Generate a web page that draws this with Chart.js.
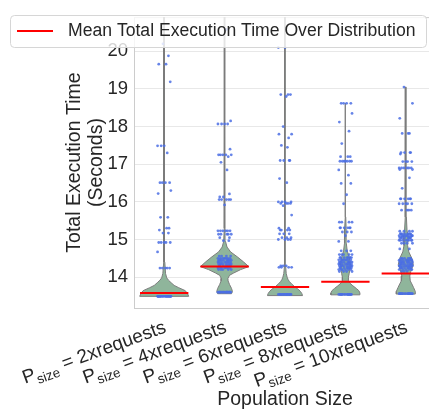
<!DOCTYPE html>
<html><head><meta charset="utf-8">
<script src="https://cdn.jsdelivr.net/npm/chart.js@4/dist/chart.umd.min.js"></script>
<style>html,body{margin:0;padding:0;overflow:hidden;background:#fff}#wrap{width:440px;height:416px}</style>
</head><body><div id="wrap"><canvas id="c" width="440" height="416"></canvas></div>
<script>
// ---------- data ----------
const categories = ['2xrequests','4xrequests','6xrequests','8xrequests','10xrequests'];
const yTicks = [14,15,16,17,18,19,20];
const meanTimes = [13.58, 14.28, 13.74, 13.88, 14.10];

// strip points: [value, count]
const points2x = [[20.2,1],[19.88,1],[19.66,2],[19.19,1],[17.49,3],[17.3,1],[16.51,4],[16.3,1],[16.22,1],[15.59,2],[15.3,2],[15.25,1],[15.17,2],[14.92,5],[14.67,1],[14.24,5],[13.49,22]];
const points4x = [[20.58,1],[18.15,1],[18.07,4],[17.4,1],[17.25,5],[17.2,1],[17.05,1],[16.85,1],[16.21,1],[16.13,2],[16.06,5],[15.92,1],[15.23,6],[15.14,5],[15.05,2],[14.97,2],[14.56,4],[14.5,7],[14.45,8],[14.4,8],[14.35,8],[14.3,8],[14.25,7],[14.2,5],[13.6,16]];
const points6x = [[20.1,2],[18.85,3],[18.8,1],[18.0,1],[17.8,2],[17.7,1],[17.5,1],[17.45,1],[17.1,4],[16.62,1],[16.51,1],[16.0,4],[15.96,4],[15.9,1],[15.65,1],[15.3,2],[15.25,4],[15.15,3],[15.05,3],[15.0,4],[14.3,3],[14.26,4],[13.54,16]];
const points8x = [[18.62,4],[18.35,1],[18.12,1],[17.88,1],[17.55,1],[17.2,3],[17.08,7],[16.85,1],[16.71,1],[16.49,2],[16.19,1],[15.95,1],[15.46,4],[15.31,6],[15.2,3],[15.1,1],[14.95,2],[14.7,3],[14.6,5],[14.52,8],[14.46,8],[14.4,8],[14.35,8],[14.3,8],[14.25,8],[14.2,6],[14.15,4],[13.54,16]];
const points10x = [[19.05,1],[18.62,1],[18.22,1],[17.82,3],[17.31,4],[17.27,1],[17.07,4],[16.9,6],[16.86,2],[16.64,1],[16.36,1],[16.08,6],[15.95,5],[15.78,4],[15.22,4],[15.15,8],[15.1,10],[15.05,8],[14.98,8],[14.9,4],[14.75,2],[14.5,6],[14.45,8],[14.4,8],[14.35,8],[14.3,10],[14.25,8],[14.2,6],[14.15,3],[13.56,16]];
const pointGroups = [points2x, points4x, points6x, points8x, points10x];

// violin outlines: [value, half width of the density (category units)]
const violin2x = [[13.49,0.405],[13.55,0.39],[13.64,0.35],[13.72,0.24],[13.78,0.165],[13.85,0.116],[13.92,0.07],[13.98,0.042],[14.1,0.022],[14.4,0.01],[15.0,0.006],[21.5,0.004]];
const violin4x = [[13.56,0.115],[13.62,0.13],[13.7,0.115],[13.8,0.083],[13.9,0.058],[13.97,0.055],[14.05,0.083],[14.11,0.15],[14.2,0.265],[14.28,0.40],[14.41,0.31],[14.54,0.21],[14.67,0.1],[14.8,0.04],[14.95,0.015],[15.3,0.007],[21.5,0.004]];
const violin6x = [[13.51,0.29],[13.56,0.28],[13.62,0.256],[13.68,0.215],[13.74,0.165],[13.81,0.115],[13.88,0.074],[13.94,0.05],[14.0,0.035],[14.1,0.02],[14.3,0.01],[15.0,0.006],[21.5,0.004]];
const violin8x = [[13.53,0.24],[13.58,0.24],[13.64,0.223],[13.7,0.18],[13.77,0.124],[13.84,0.074],[13.9,0.05],[14.0,0.05],[14.1,0.063],[14.25,0.08],[14.4,0.08],[14.55,0.058],[14.7,0.03],[14.9,0.015],[15.3,0.012],[15.6,0.006],[18.62,0.004]];
const violin10x = [[13.55,0.157],[13.62,0.157],[13.72,0.13],[13.82,0.1],[13.9,0.074],[14.03,0.066],[14.15,0.083],[14.33,0.124],[14.5,0.1],[14.67,0.05],[14.84,0.03],[15.05,0.04],[15.25,0.02],[15.6,0.01],[16.1,0.008],[19.05,0.004]];
const violins = [violin2x, violin4x, violin6x, violin8x, violin10x];

// ---------- styling / layout ----------
const FONT = "'Liberation Sans', Arial, sans-serif";
const TEXT = '#262626';
const JIT = [-0.02,0.07,-0.09,0.03,0.10,-0.05,0.0,-0.11,0.05,0.09,-0.07,0.02,-0.03,0.11,-0.10,0.06,-0.06,0.04,0.08,-0.08];
const MEAN_HALF = 0.4;

const violinDatasets = violins.map((prof, i) => {
  const right = prof.map(([v, w]) => ({x: i + w, y: v}));
  const left = prof.slice().reverse().map(([v, w]) => ({x: i - w, y: v}));
  const poly = right.concat(left);
  poly.push(right[0]);
  return {type:'line', data: poly, parsing:false, fill:'shape', backgroundColor:'#8fb59b',
    borderColor:'#7c7c7c', borderWidth:1, pointRadius:0, tension:0, order:3};
});

const stripDatasets = pointGroups.map((groups, i) => {
  const pts = [];
  let k = i * 3;
  groups.forEach(([v, n]) => {
    for (let j = 0; j < n; j++) { pts.push({x: i + JIT[k % JIT.length], y: v}); k++; }
  });
  return {type:'scatter', data: pts, parsing:false, pointRadius:1.4, borderWidth:0,
    backgroundColor:'rgba(75,110,228,0.85)', order:2};
});

const meanData = [];
meanTimes.forEach((m, i) => {
  meanData.push({x: i - MEAN_HALF, y: m}, {x: i + MEAN_HALF, y: m}, {x: i + 0.5, y: null});
});
const meanDataset = {type:'line', label:'Mean Total Execution Time Over Distribution', data: meanData,
  parsing:false, borderColor:'#ff0000', borderWidth:2, pointRadius:0, fill:false, spanGaps:false, order:1};

const overlay = {
  id:'overlay',
  beforeDatasetsDraw(chart) {
    const {ctx, chartArea: a} = chart;
    ctx.save();
    ctx.strokeStyle = '#cccccc'; ctx.lineWidth = 1;
    ctx.beginPath(); ctx.moveTo(a.left, a.top + 0.5); ctx.lineTo(a.right, a.top + 0.5); ctx.stroke();
    ctx.restore();
  },
  afterDraw(chart) {
    const {ctx, chartArea: a} = chart;
    const xs = chart.scales.x;
    // x tick labels with subscript
    categories.forEach((cat, i) => {
      const parts = [
        {t:'P', f:19, dy:0},
        {t:'size', f:13.5, dy:5},
        {t:' = ' + cat, f:19, dy:0}
      ];
      let W = 0;
      parts.forEach(p => { ctx.font = p.f + 'px ' + FONT; p.w = ctx.measureText(p.t).width; W += p.w; });
      ctx.save();
      ctx.translate(xs.getPixelForValue(i) + 3, a.bottom + 24);
      ctx.rotate(-20 * Math.PI / 180);
      ctx.fillStyle = TEXT; ctx.textBaseline = 'alphabetic'; ctx.textAlign = 'left';
      let x = -W;
      parts.forEach(p => { ctx.font = p.f + 'px ' + FONT; ctx.fillText(p.t, x, p.dy); x += p.w; });
      ctx.restore();
    });
    // legend
    ctx.save();
    const bx = 10.5, by = 15.5, bw = 416, bh = 32, r = 4;
    ctx.beginPath();
    ctx.moveTo(bx + r, by); ctx.lineTo(bx + bw - r, by); ctx.arcTo(bx + bw, by, bx + bw, by + r, r);
    ctx.lineTo(bx + bw, by + bh - r); ctx.arcTo(bx + bw, by + bh, bx + bw - r, by + bh, r);
    ctx.lineTo(bx + r, by + bh); ctx.arcTo(bx, by + bh, bx, by + bh - r, r);
    ctx.lineTo(bx, by + r); ctx.arcTo(bx, by, bx + r, by, r); ctx.closePath();
    ctx.fillStyle = 'rgba(255,255,255,0.8)'; ctx.fill();
    ctx.strokeStyle = '#d6d6d6'; ctx.lineWidth = 1; ctx.stroke();
    ctx.strokeStyle = '#ff0000'; ctx.lineWidth = 2;
    ctx.beginPath(); ctx.moveTo(17, 31); ctx.lineTo(53, 31); ctx.stroke();
    ctx.fillStyle = TEXT; ctx.font = '17.6px ' + FONT; ctx.textBaseline = 'middle';
    ctx.fillText(meanDataset.label, 68, 31.5);
    ctx.restore();
  }
};

new Chart(document.getElementById('c'), {
  data: { datasets: [...violinDatasets, ...stripDatasets, meanDataset] },
  options: {
    responsive:false, animation:false, events:[],
    layout:{padding:{left:64, right:4, top:7, bottom:5}},
    plugins:{legend:{display:false}, tooltip:{enabled:false}},
    scales:{
      x:{type:'linear', min:-0.5, max:4.5,
        grid:{display:false}, border:{color:'#cccccc'},
        ticks:{display:false},
        afterFit(s){ s.height = 103; },
        title:{display:true, text:'Population Size', color:TEXT, font:{family:FONT, size:19.5}, padding:{top:0,bottom:0}}
      },
      y:{type:'linear', min:13.18, max:20.91,
        afterBuildTicks(s){ s.ticks = yTicks.map(v => ({value:v})); },
        grid:{color:'#e8e8e8', drawTicks:false}, border:{color:'#cccccc'},
        ticks:{color:TEXT, font:{family:FONT, size:18.5}, padding:6},
        afterFit(s){ s.width = 70; },
        title:{display:true, text:['Total Execution Time','(Seconds)'], color:TEXT,
          font:{family:FONT, size:19.5, lineHeight:1.13}, padding:{top:0,bottom:0}}
      }
    }
  },
  plugins:[overlay]
});
</script></body></html>
